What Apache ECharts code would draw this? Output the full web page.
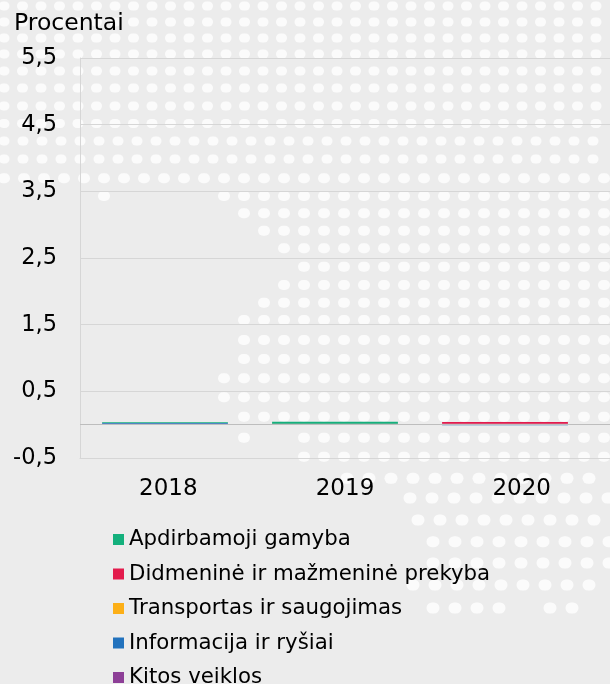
<!DOCTYPE html>
<html>
<head>
<meta charset="utf-8">
<script src="https://cdn.jsdelivr.net/npm/echarts@6/dist/echarts.min.js"></script>
<style>
  html, body { margin: 0; padding: 0; background: #ececec; }
  #chart { width: 610px; height: 684px; }
</style>
</head>
<body>
<div id="chart"></div>
<script>
// ---- data ----
const categories = ['2018', '2019', '2020'];
const apdirbamoji = [0.01, 0.03, 0];
const didmenine = [0, 0.015, 0.025];
const transportas = [0, 0, 0];
const informacija = [0.01, 0, -0.01];
const kitos = [0.015, 0, 0.015];
const legendNames = [
  'Apdirbamoji gamyba',
  'Didmeninė ir mažmeninė prekyba',
  'Transportas ir saugojimas',
  'Informacija ir ryšiai',
  'Kitos veiklos'
];
const yAxisTitle = 'Procentai';

// ---- decoration: white dot background pattern ----
const dotRows = [
  // y, xStart, xEnd, step, w, h
  [6, 4, 610, 18.5, 11, 9],
  [22, 4, 610, 18.5, 11, 9],
  [38, 4, 610, 18.5, 11, 9],
  [54, 4, 610, 18.5, 11, 9],
  [71, 4, 610, 18.5, 11, 9],
  [88, 4, 610, 18.5, 11, 9],
  [106, 4, 610, 18.5, 11, 9],
  [123.5, 4, 610, 18.5, 11, 9],
  [141, 4, 610, 19, 11, 9],
  [159, 4, 610, 19, 11, 9],
  [178.3, 4, 610, 20, 12, 10],
  [196, 104, 104, 20, 12, 10],
  [196, 224, 610, 20, 12, 10],
  [213.3, 244, 610, 20, 12, 10],
  [230.7, 264, 610, 20, 12, 10],
  [248.3, 284, 610, 20, 12, 10],
  [266.7, 304, 610, 20, 12, 10],
  [285, 284, 610, 20, 12, 10],
  [302.7, 264, 610, 20, 12, 10],
  [320, 244, 610, 20, 12, 10],
  [340, 244, 610, 20, 12, 10],
  [359, 244, 610, 20, 12, 10],
  [378.3, 224, 610, 20, 12, 10],
  [397.3, 224, 610, 20, 12, 10],
  [416.7, 244, 610, 20, 12, 10],
  [437.7, 244, 244, 20, 12, 10],
  [437.7, 304, 610, 20, 12, 10],
  [456.7, 304, 610, 20, 12, 10],
  [478.3, 347, 610, 22, 13, 11],
  [498, 410, 610, 22, 13, 11],
  [520, 418, 610, 22, 13, 11],
  [541.7, 433, 610, 22, 13, 11],
  [563, 433, 610, 22, 13, 11],
  [585, 413, 600, 22, 13, 11],
  [608, 433, 510, 22, 13, 11],
  [608, 550, 580, 22, 13, 11]
];
const dots = [];
dotRows.forEach(function (r) {
  const y = r[0], x0 = r[1], x1 = r[2], step = r[3], w = r[4], h = r[5];
  for (let x = x0; x <= x1 + 0.01; x += step) {
    dots.push({
      type: 'rect', z: -5, silent: true,
      shape: { x: x - w / 2, y: y - h / 2, width: w, height: h, r: h / 2 },
      style: { fill: '#fbfbfb' }
    });
  }
});

const FONT = 'DejaVu Sans';
const colors = {
  'Apdirbamoji gamyba': '#14b07c',
  'Didmeninė ir mažmeninė prekyba': '#e31b4c',
  'Transportas ir saugojimas': '#fcaf17',
  'Informacija ir ryšiai': '#2272bd',
  'Kitos veiklos': '#8d3f97'
};
const seriesData = [
  ['Kitos veiklos', kitos],
  ['Informacija ir ryšiai', informacija],
  ['Transportas ir saugojimas', transportas],
  ['Didmeninė ir mažmeninė prekyba', didmenine],
  ['Apdirbamoji gamyba', apdirbamoji]
];

const chart = echarts.init(document.getElementById('chart'), null, { renderer: 'canvas' });

const series = [
  {
    type: 'line', xAxisIndex: 1, yAxisIndex: 1, data: ['-', '-', '-'],
    silent: true, symbol: 'none', animation: false,
    markLine: {
      silent: true, symbol: 'none', animation: false,
      label: { show: false },
      lineStyle: { color: '#bdbdbd', width: 1, type: 'solid' },
      data: [{ yAxis: 0 }]
    }
  }
];
seriesData.forEach(function (s) {
  series.push({
    name: s[0], type: 'bar', stack: 'total', xAxisIndex: 0, yAxisIndex: 0,
    barWidth: '74%', data: s[1], animation: false,
    itemStyle: { color: colors[s[0]] }
  });
});

chart.setOption({
  backgroundColor: '#ececec',
  textStyle: { fontFamily: FONT },
  color: legendNames.map(function (n) { return colors[n]; }),
  graphic: { elements: [{ type: 'group', z: -5, silent: true, children: dots }] },
  title: {
    text: yAxisTitle, left: 14, top: 12, padding: 0,
    textStyle: { fontFamily: FONT, fontSize: 23.5, fontWeight: 'normal', color: '#000' }
  },
  legend: {
    orient: 'vertical', left: 113, top: 529, padding: 0,
    width: 490, height: 240,
    itemWidth: 11, itemHeight: 11, itemGap: 13.5, icon: 'rect',
    data: legendNames,
    selectedMode: false,
    textStyle: { fontFamily: FONT, fontSize: 21.3, color: '#000', lineHeight: 21 }
  },
  grid: [
    { left: 80, right: 20, top: 58, bottom: 226, containLabel: false },
    { left: 80, right: -4, top: 58, bottom: 226, containLabel: false }
  ],
  xAxis: [
    {
      type: 'category', gridIndex: 0, data: categories,
      axisLine: { show: false }, axisTick: { show: false }, axisLabel: { show: false },
      splitLine: { show: false }
    },
    {
      type: 'category', gridIndex: 1, data: categories,
      axisLine: { show: true, onZero: false, lineStyle: { color: '#d6d6d6', width: 1 } },
      axisTick: { show: false },
      axisLabel: { fontFamily: FONT, fontSize: 23, color: '#000', margin: 20 },
      splitLine: { show: false }
    }
  ],
  yAxis: [
    {
      type: 'value', gridIndex: 0, min: -0.5, max: 5.5, interval: 1, show: false
    },
    {
      type: 'value', gridIndex: 1, min: -0.5, max: 5.5, interval: 1,
      axisLine: { show: true, lineStyle: { color: '#d6d6d6', width: 1 } },
      axisTick: { show: false },
      axisLabel: {
        fontFamily: FONT, fontSize: 22.5, color: '#000', margin: 23,
        formatter: function (v) { return v.toFixed(1).replace('.', ','); }
      },
      splitLine: { show: true, lineStyle: { color: '#d6d6d6', width: 1 } }
    }
  ],
  series: series
});
</script>
</body>
</html>
